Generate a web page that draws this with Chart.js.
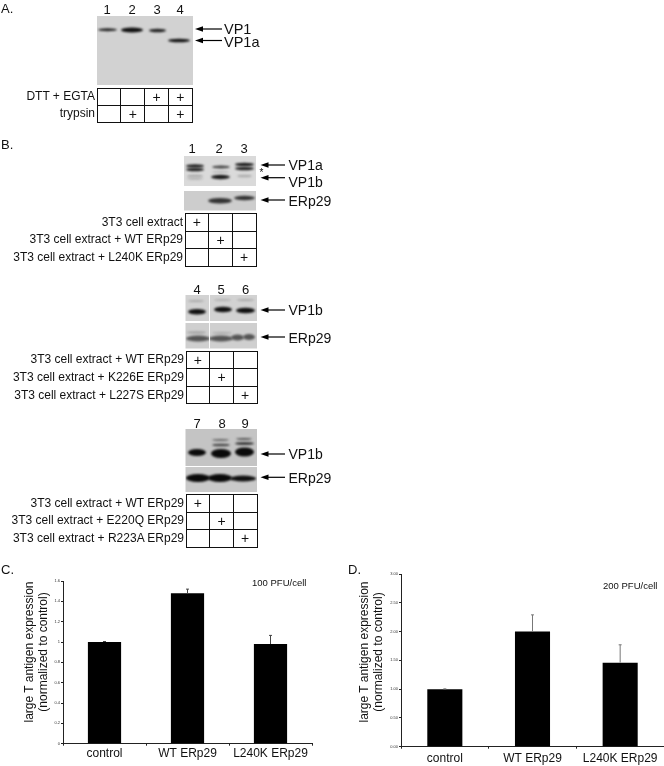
<!DOCTYPE html>
<html>
<head>
<meta charset="utf-8">
<title>VP1 ERp29</title>
<script src="https://cdn.jsdelivr.net/npm/chart.js@4"></script>
<style>
html, body { margin: 0; padding: 0; background: #fff; }
#page { position: relative; width: 664px; height: 766px; overflow: hidden; font-family: "Liberation Sans", Arial, sans-serif; color: #111; filter: blur(0.3px); }
#page > * { position: absolute; }
.t { white-space: nowrap; line-height: 1; }
.r { text-align: right; }
.c { transform: translateX(-50%); }
.rot { transform: translate(-50%, -50%) rotate(-90deg); }
table { border-collapse: collapse; table-layout: fixed; }
td { box-sizing: border-box; border: 1.4px solid #111; padding: 0; text-align: center; font-size: 14px; line-height: 1; overflow: hidden; }
</style>
</head>
<body>
<div id="page">
  <canvas id="blots" width="664" height="766" style="left:0;top:0"></canvas>
  <canvas id="chartC" width="325" height="196" style="left:0;top:570px"></canvas>
  <canvas id="chartD" width="330" height="196" style="left:334px;top:570px"></canvas>
</div>
<script>
// bar charts
var categories = ["control", "WT ERp29", "L240K ERp29"];
var valuesC = [1.0, 1.48, 0.98];
var errorTopC = [1.005, 1.52, 1.065];
var tickLabelsC = ["0", "0.2", "0.4", "0.6", "0.8", "1", "1.2", "1.4", "1.6"];
var valuesD = [1.0, 2.0, 1.46];
var errorTopD = [1.005, 2.29, 1.77];
var tickLabelsD = ["0.00", "0.50", "1.00", "1.50", "2.00", "2.50", "3.00"];

// condition tables
var tableA = [["DTT + EGTA", 2, 3], ["trypsin", 1, 3]];
var tableB1 = [["3T3 cell extract", 0], ["3T3 cell extract + WT ERp29", 1], ["3T3 cell extract + L240K ERp29", 2]];
var tableB2 = [["3T3 cell extract + WT ERp29", 0], ["3T3 cell extract + K226E ERp29", 1], ["3T3 cell extract + L227S ERp29", 2]];
var tableB3 = [["3T3 cell extract + WT ERp29", 0], ["3T3 cell extract + E220Q ERp29", 1], ["3T3 cell extract + R223A ERp29", 2]];

var page = document.getElementById("page");

function addText(str, x, y, size, cls) {
  var d = document.createElement("div");
  d.className = "t " + (cls || "");
  d.textContent = str;
  d.style.left = x + "px";
  d.style.top = y - size / 2 + "px";
  d.style.fontSize = size + "px";
  page.appendChild(d);
  return d;
}

function addRightText(str, right, y, size) {
  var d = addText(str, 0, y, size, "r");
  d.style.left = "auto";
  d.style.right = 664 - right + "px";
}

function addTable(rows, left, top, colW, rowH, nCols) {
  var t = document.createElement("table");
  t.style.left = left + "px";
  t.style.top = top + "px";
  t.style.width = colW * nCols + "px";
  rows.forEach(function (row, r) {
    var tr = document.createElement("tr");
    for (var i = 0; i < nCols; i++) {
      var td = document.createElement("td");
      td.style.height = rowH + "px";
      if (row.slice(1).indexOf(i) >= 0) td.textContent = "+";
      tr.appendChild(td);
    }
    t.appendChild(tr);
    addRightText(row[0], left - 1.5, top + rowH * (r + 0.5), 12);
  });
  page.appendChild(t);
}

addText("A.", 1, 8, 13);
addText("B.", 1, 144, 13);
addText("C.", 1, 569, 13);
addText("D.", 348, 569, 13);

[["1", 107], ["2", 132], ["3", 157], ["4", 180]].forEach(function (n) { addText(n[0], n[1], 9, 13, "c"); });
[["1", 192], ["2", 219], ["3", 244]].forEach(function (n) { addText(n[0], n[1], 148, 13, "c"); });
[["4", 197], ["5", 221], ["6", 245.5]].forEach(function (n) { addText(n[0], n[1], 289, 13, "c"); });
[["7", 197], ["8", 222], ["9", 245]].forEach(function (n) { addText(n[0], n[1], 423, 13, "c"); });

addText("VP1", 224, 29, 14.5);
addText("VP1a", 224, 42, 14.5);
addText("VP1a", 288.5, 165, 14);
addText("VP1b", 288.5, 181.5, 14);
addText("ERp29", 288.5, 201, 14);
addText("*", 259.5, 173, 10);
addText("VP1b", 288.5, 310, 14);
addText("ERp29", 288.5, 338, 14);
addText("VP1b", 288.5, 454, 14);
addText("ERp29", 288.5, 478, 14);

addTable(tableA, 96.5, 87.5, 24.1, 17.3, 4);
addTable(tableB1, 184.5, 213, 24, 17.6, 3);
addTable(tableB2, 185.5, 350.5, 24, 17.6, 3);
addTable(tableB3, 185.5, 494, 24, 17.5, 3);

addText("100 PFU/cell", 252, 583, 9.5);
addText("200 PFU/cell", 603, 585.7, 9.5);
[["large T antigen expression", 29, 652], ["(normalized to control)", 43, 652],
 ["large T antigen expression", 364, 652], ["(normalized to control)", 378, 652]].forEach(function (l) {
  var d = addText(l[0], l[1], l[2], 12, "rot");
  d.style.top = l[2] + "px";
});

// western blot panels, hand drawn on a plain canvas, they are not chart data
var ctx = document.getElementById("blots").getContext("2d");

function blot(x, y, w, h, bg, bands) {
  ctx.save();
  ctx.fillStyle = bg;
  ctx.fillRect(x, y, w, h);
  ctx.beginPath();
  ctx.rect(x, y, w, h);
  ctx.clip();
  ctx.filter = "blur(0.8px)";
  bands.forEach(function (b) {
    ctx.fillStyle = b[4];
    ctx.beginPath();
    ctx.ellipse(b[0] + b[2] / 2, b[1], b[2] / 2, b[3] / 2, 0, 0, Math.PI * 2);
    ctx.fill();
  });
  ctx.restore();
}

function arrow(x0, x1, y) {
  ctx.strokeStyle = ctx.fillStyle = "#000";
  ctx.lineWidth = 1.2;
  ctx.beginPath();
  ctx.moveTo(x0 + 4, y);
  ctx.lineTo(x1, y);
  ctx.stroke();
  ctx.beginPath();
  ctx.moveTo(x0, y);
  ctx.lineTo(x0 + 8, y - 2.8);
  ctx.lineTo(x0 + 8, y + 2.8);
  ctx.fill();
}

blot(97, 16, 96, 69, "#d2d2d2", [
  [98, 29.7, 19, 3, "#222"], [121, 30, 22, 5, "#111"], [149, 30.5, 17, 3.4, "#222"], [168, 40.5, 22, 3.4, "#111"]
]);
blot(184, 156, 72, 30, "#dadada", [
  [186, 166, 18, 3.5, "#222"], [186, 169.5, 18, 3.5, "#222"], [187, 176, 16, 2.5, "#a8a8a8"], [187, 178.5, 16, 2.5, "#b4b4b4"],
  [212, 167, 18, 3, "#444"], [211, 177, 19, 4.5, "#1a1a1a"], [212, 172, 17, 2, "#b8b8b8"],
  [235, 164.5, 19, 3.5, "#1a1a1a"], [235, 168.5, 19, 3.5, "#222"], [237, 176, 15, 2.5, "#aaa"]
]);
blot(184, 191, 72, 19.5, "#cdcdcd", [
  [208, 200.7, 24, 5.5, "#333"], [234, 198, 21, 4.5, "#333"]
]);
blot(185.5, 295, 71.5, 26, "#d2d2d2", [
  [188, 301, 16, 2, "#a8a8a8"], [214, 300, 17, 2, "#b0b0b0"], [237, 300, 17, 2, "#a8a8a8"],
  [188, 311.7, 18, 5.5, "#111"], [214, 309.5, 18, 5.5, "#111"], [236, 310.5, 19, 5.5, "#111"]
]);
blot(185.5, 323, 71.5, 25.5, "#cfcfcf", [
  [187, 332.5, 19, 2, "#999"], [212, 333, 20, 2, "#aaa"],
  [186, 338.5, 24, 6, "#555"], [209, 338.5, 24, 6, "#555"],
  [231, 337.5, 13, 6, "#555"], [243, 337, 12, 6, "#555"]
]);
blot(185.5, 429, 71.5, 37, "#c4c4c4", [
  [188, 452.5, 18, 7, "#0a0a0a"], [211, 453.5, 20, 9, "#0a0a0a"], [235, 452, 19, 9, "#0a0a0a"],
  [212, 440, 17, 1.8, "#666"], [212, 445, 18, 2.5, "#444"], [236, 439, 16, 1.8, "#555"], [235, 443.5, 19, 2.5, "#222"]
]);
blot(185.5, 467, 71.5, 25, "#c9c9c9", [
  [186, 478, 24, 8, "#0a0a0a"], [208, 478, 24, 8, "#0a0a0a"], [230, 478.5, 26, 6, "#111"]
]);
// lane splices in the second group
ctx.fillStyle = "#fff";
ctx.fillRect(209, 295, 0.9, 53.5);

arrow(195, 222, 29);
arrow(195, 222, 40.5);
arrow(260.5, 285, 165);
arrow(260.5, 285, 177.7);
arrow(260.5, 285, 200);
arrow(260.5, 285, 310);
arrow(260.5, 285, 337);
arrow(260.5, 285, 454);
arrow(260.5, 285, 477.3);

var errorBars = {
  id: "errorBars",
  afterDatasetsDraw: function (chart, args, opts) {
    var c = chart.ctx, meta = chart.getDatasetMeta(0), y = chart.scales.y;
    c.save();
    c.strokeStyle = opts.color;
    c.lineWidth = 1;
    meta.data.forEach(function (bar, i) {
      var top = y.getPixelForValue(opts.tops[i]);
      c.beginPath();
      c.moveTo(bar.x, y.getPixelForValue(chart.data.datasets[0].data[i]));
      c.lineTo(bar.x, top);
      c.moveTo(bar.x - 1.5, top);
      c.lineTo(bar.x + 1.5, top);
      c.stroke();
    });
    c.restore();
  }
};

function barChart(id, values, tops, tickLabels, yMax, step, pad, errColor, labelPadding) {
  return new Chart(document.getElementById(id), {
    type: "bar",
    data: {
      labels: categories,
      datasets: [{ data: values, backgroundColor: "#000", barPercentage: 0.4, categoryPercentage: 1 }]
    },
    plugins: [errorBars],
    options: {
      responsive: false,
      animation: false,
      layout: { padding: { top: pad.top, right: pad.right, left: 0, bottom: 0 } },
      plugins: {
        legend: { display: false },
        tooltip: { enabled: false },
        errorBars: { tops: tops, color: errColor }
      },
      scales: {
        x: {
          afterFit: function (s) { s.height = pad.bottom; },
          border: { color: "#222", width: 1 },
          grid: { drawOnChartArea: false, tickLength: 2, color: "#222" },
          ticks: { color: "#111", font: { family: "Liberation Sans", size: 12 }, padding: labelPadding, maxRotation: 0, autoSkip: false }
        },
        y: {
          min: 0,
          max: yMax,
          afterFit: function (s) { s.width = pad.left; },
          border: { color: "#222", width: 1 },
          grid: { drawOnChartArea: false, tickLength: 2, color: "#222" },
          ticks: {
            stepSize: step,
            color: "#333",
            padding: 1,
            font: { family: "Liberation Sans", size: 4 },
            callback: function (v, i) { return tickLabels[i]; }
          }
        }
      }
    }
  });
}

barChart("chartC", valuesC, errorTopC, tickLabelsC, 1.6, 0.2, { top: 11, right: 13, bottom: 22.3, left: 63 }, "#444", 1);
barChart("chartD", valuesD, errorTopD, tickLabelsD, 3, 0.5, { top: 4, right: 0, bottom: 19.3, left: 67 }, "#777", 3);
</script>
</body>
</html>
